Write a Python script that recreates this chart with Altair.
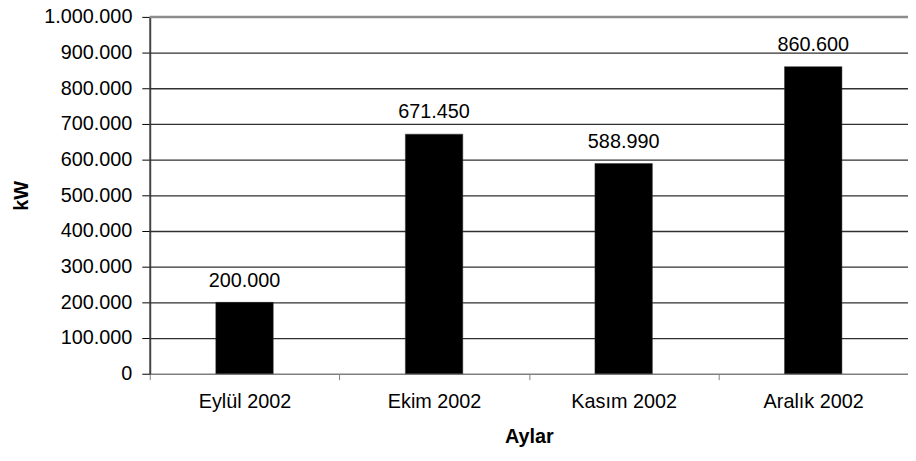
import altair as alt
import pandas as pd

months = ["Eylül 2002", "Ekim 2002", "Kasım 2002", "Aralık 2002"]
power_kw = [200000, 671450, 588990, 860600]
y_ticks = [0, 100000, 200000, 300000, 400000, 500000, 600000, 700000, 800000, 900000, 1000000]
y_max = 1000000

df = pd.DataFrame({"Ay": months, "kW": power_kw})
grid_df = pd.DataFrame({"kW": [v for v in y_ticks if 0 < v < y_max]})
top_df = pd.DataFrame({"kW": [y_max]})

FONT = "Liberation Sans"

x_axis = alt.Axis(
    labelAngle=0,
    labelFontSize=20,
    labelColor="black",
    labelPadding=12,
    tickBand="extent",
    tickSize=6,
    tickColor="#808080",
    domainColor="#808080",
    domainWidth=1.5,
    titleFontSize=20,
    titleFontWeight="bold",
    titleColor="black",
    titlePadding=15,
    grid=False,
)
x_scale = alt.Scale(paddingInner=0, paddingOuter=0)

y_axis = alt.Axis(
    values=y_ticks,
    format=",d",
    labelOverlap=False,
    labelFontSize=20,
    labelColor="black",
    labelPadding=10,
    tickSize=8,
    tickColor="black",
    domainColor="#444444",
    domainWidth=2,
    grid=False,
    titleFontSize=20,
    titleFontWeight="bold",
    titleColor="black",
    titlePadding=12,
)
y_scale = alt.Scale(domain=[0, y_max], nice=False)

x_enc = alt.X("Ay:N", sort=months, title="Aylar", scale=x_scale, axis=x_axis)
y_enc = alt.Y("kW:Q", title="kW", scale=y_scale, axis=y_axis)

grid = alt.Chart(grid_df).mark_rule(
    color="#303030", strokeWidth=1.3, opacity=1, yOffset=0.5
).encode(y=y_enc, x=alt.value(0), x2=alt.value(765))

top_line = alt.Chart(top_df).mark_rule(color="#8c8c8c", strokeWidth=2.5).encode(y=y_enc)

bars = alt.Chart(df).mark_bar(
    color="black", width=alt.RelativeBandSize(0.303), stroke="#333333", strokeWidth=0.5
).encode(x=x_enc, y=y_enc)

labels = alt.Chart(df).mark_text(
    fontSize=20, font=FONT, color="black", baseline="alphabetic", dy=-16
).encode(
    x=x_enc,
    y=y_enc,
    text=alt.Text("kW:Q", format=",d"),
)

chart = (
    alt.layer(grid, top_line, bars, labels)
    .properties(
        width=765,
        height=360,
        autosize=alt.AutoSizeParams(type="none"),
        padding={"left": 143, "top": 7, "right": 0, "bottom": 78},
    )
    .configure(
        font=FONT,
        locale=alt.Locale(
            number=alt.NumberLocale(decimal=",", thousands=".", grouping=[3], currency=["", ""])
        ),
    )
    .configure_view(stroke=None)
    .configure_axis(labelFont=FONT, titleFont=FONT)
)

chart.save("out.html", embed_options={"renderer": "svg", "actions": False})
